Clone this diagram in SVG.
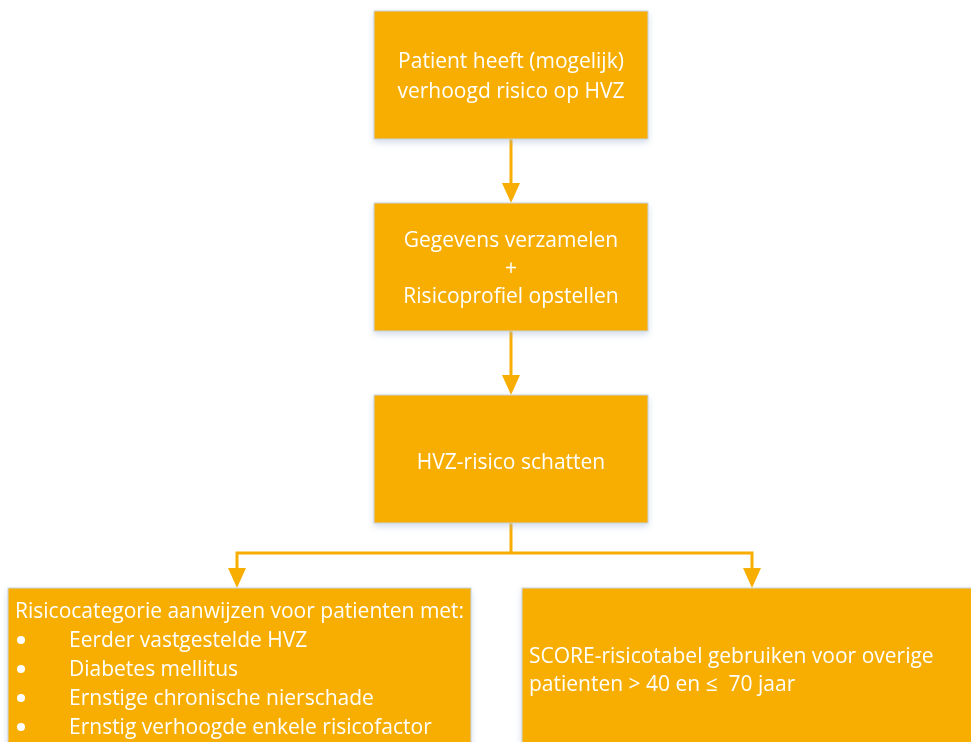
<svg xmlns="http://www.w3.org/2000/svg" width="971" height="742" viewBox="0 0 971 742">
  <style>
    .box { fill: #F8AE00; stroke: #C9D3E3; stroke-width: 1; }
    .lbl { font-family: "Open Sans", "Liberation Sans", sans-serif; font-size: 21px; fill: #FFFFFF; }
    .mid { text-anchor: middle; }
    .wire { fill: none; stroke: #F8AE00; stroke-width: 3; }
    .head { fill: #F8AE00; }
  </style>
  <defs>
    <filter id="shadow" x="-10%" y="-10%" width="120%" height="130%">
      <feGaussianBlur in="SourceAlpha" stdDeviation="3"/>
      <feOffset dx="0" dy="3" result="b"/>
      <feFlood flood-color="#9FB3D1" flood-opacity="0.45"/>
      <feComposite in2="b" operator="in"/>
      <feMerge><feMergeNode/><feMergeNode in="SourceGraphic"/></feMerge>
    </filter>
  </defs>
  <rect width="971" height="742" fill="#FFFFFF"/>

  <g id="connectors">
    <line class="wire" x1="511" y1="139" x2="511" y2="185"/>
    <polygon class="head" points="502,183 520,183 511,203"/>
    <line class="wire" x1="511" y1="331" x2="511" y2="377"/>
    <polygon class="head" points="502,375 520,375 511,395"/>
    <polyline class="wire" points="237,570 237,553 752,553 752,570"/>
    <line class="wire" x1="511" y1="523" x2="511" y2="553"/>
    <polygon class="head" points="228,568 246,568 237,588"/>
    <polygon class="head" points="743,568 761,568 752,588"/>
  </g>

  <g id="node-start" filter="url(#shadow)">
    <rect class="box" x="374" y="11" width="274" height="128"/>
    <text class="lbl mid" x="511" y="68">Patient heeft (mogelijk)</text>
    <text class="lbl mid" x="511" y="98">verhoogd risico op HVZ</text>
  </g>

  <g id="node-gegevens" filter="url(#shadow)">
    <rect class="box" x="374" y="203" width="274" height="128"/>
    <text class="lbl mid" x="511" y="247">Gegevens verzamelen</text>
    <text class="lbl mid" x="511" y="275">+</text>
    <text class="lbl mid" x="511" y="303">Risicoprofiel opstellen</text>
  </g>

  <g id="node-schatten" filter="url(#shadow)">
    <rect class="box" x="374" y="395" width="274" height="128"/>
    <text class="lbl mid" x="511" y="469">HVZ-risico schatten</text>
  </g>

  <g id="node-categorie" filter="url(#shadow)">
    <rect class="box" x="8" y="588" width="463" height="170"/>
    <text class="lbl" x="15" y="618">Risicocategorie aanwijzen voor patienten met:</text>
    <circle cx="21" cy="640" r="4" fill="#FFFFFF"/>
    <text class="lbl" x="69" y="647">Eerder vastgestelde HVZ</text>
    <circle cx="21" cy="669" r="4" fill="#FFFFFF"/>
    <text class="lbl" x="69" y="676">Diabetes mellitus</text>
    <circle cx="21" cy="698" r="4" fill="#FFFFFF"/>
    <text class="lbl" x="69" y="705">Ernstige chronische nierschade</text>
    <circle cx="21" cy="727" r="4" fill="#FFFFFF"/>
    <text class="lbl" x="69" y="734">Ernstig verhoogde enkele risicofactor</text>
  </g>

  <g id="node-score" filter="url(#shadow)">
    <rect class="box" x="522" y="588" width="460" height="170"/>
    <text class="lbl" x="529" y="663">SCORE-risicotabel gebruiken voor overige</text>
    <text class="lbl" x="529" y="691">patienten &gt; 40 en ≤&#160; 70 jaar</text>
  </g>
</svg>
